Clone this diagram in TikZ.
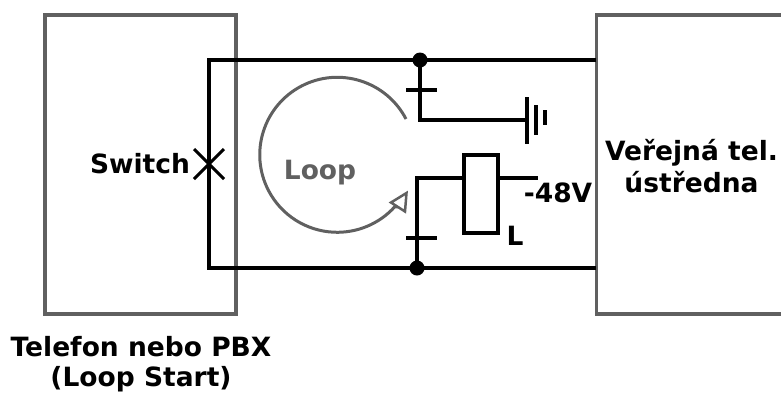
\documentclass[tikz,border=0pt]{standalone}
\usepackage{fontspec}
\setmainfont{DejaVu Sans}
\usetikzlibrary{positioning}
\definecolor{boxgray}{HTML}{606060}
\tikzset{
    wire/.style={draw=black,line width=3.6pt},
    box/.style={draw=boxgray,line width=3.6pt},
    dot/.style={circle,fill=black,inner sep=0pt,minimum size=15pt},
    lbl/.style={font=\fontsize{26.5}{32.5}\selectfont\bfseries,inner sep=0pt,align=center},
    relay/.style={draw=black,fill=white,line width=3.6pt,inner sep=0pt,minimum width=34pt,minimum height=78pt},
}

\begin{document}
\begin{tikzpicture}[x=1pt,y=-1pt]
    \useasboundingbox (0,0) rectangle (781,392);

    % boxes
    \node [box,inner sep=0pt,minimum width=191pt,minimum height=299pt] (pbx) at (140.5,164.5) {};
    \coordinate (ca) at (781,15);
    \coordinate [left=184.5pt of ca] (cb);
    \coordinate [below=299pt of cb] (cc);
    \coordinate [right=184.5pt of cc] (cd);
    \draw [box] (ca) -- (cb) -- (cc) -- (cd);

    % wires
    \coordinate (tl) at (209,60);
    \coordinate (tr) at (596,60);
    \coordinate (bl) at (209,268);
    \coordinate (br) at (596,268);
    \draw [wire] (tr) -- (tl) -- (bl) -- (br);

    % switch
    \coordinate (sw) at (209,164);
    \coordinate [above left=15pt and 15pt of sw] (swa);
    \coordinate [below right=15pt and 15pt of sw] (swb);
    \coordinate [above right=15pt and 15pt of sw] (swc);
    \coordinate [below left=15pt and 15pt of sw] (swd);
    \draw [wire,line width=3pt] (swa) -- (swb);
    \draw [wire,line width=3pt] (swc) -- (swd);

    % ground branch
    \node [dot] (dt) at (420,60) {};
    \coordinate (gk) at (420,120);
    \coordinate (g1) at (527,120);
    \draw [wire] (dt.center) -- (gk) -- (g1);
    \coordinate (tk1) at (406,90);
    \coordinate [right=31pt of tk1] (tk2);
    \draw [wire] (tk1) -- (tk2);
    \coordinate (ga1) at (527,97);
    \coordinate [below=47pt of ga1] (ga2);
    \coordinate (gb1) at (536,105);
    \coordinate [below=30pt of gb1] (gb2);
    \coordinate (gc1) at (545,110);
    \coordinate [below=15pt of gc1] (gc2);
    \draw [wire] (ga1) -- (ga2);
    \draw [wire] (gb1) -- (gb2);
    \draw [wire] (gc1) -- (gc2);

    % relay branch
    \node [dot] (db) at (417,268) {};
    \coordinate (rk) at (417,178);
    \node [relay] (rl) at (481,194) {};
    \coordinate (rr) at (538,178);
    \draw [wire] (db.center) -- (rk) -- (rk -| rl.west);
    \draw [wire] (rk -| rl.east) -- (rr);
    \coordinate (tk3) at (406,238);
    \coordinate [right=31pt of tk3] (tk4);
    \draw [wire] (tk3) -- (tk4);

    % loop
    \coordinate (ls) at (406,119);
    \coordinate (lb) at (398,207);
    \coordinate (lt) at (406.5,193);
    \coordinate (la) at (391,202.5);
    \coordinate (lc) at (405,211.5);
    \draw [draw=boxgray,line width=3pt]
        (ls) arc[start angle=-27.5,end angle=-318,x radius=77.5,y radius=77.5] -- (lb);
    \draw [draw=boxgray,fill=white,line width=2.5pt] (lt) -- (la) -- (lc) -- cycle;

    % labels
    \node [lbl] (swl) at (140,164) {Switch};
    \node [lbl,text=boxgray] (lpl) at (320,173) {Loop};
    \node [lbl] (vl) at (558,192.5) {-48V};
    \node [lbl] (ll) at (515,235.5) {L};
    \node [lbl] (cal) at (691.5,166) {Veřejná tel.\\ústředna};
    \node [lbl] (pbl) at (141,364) {Telefon nebo PBX\\[-3pt](Loop Start)};
\end{tikzpicture}
\end{document}
